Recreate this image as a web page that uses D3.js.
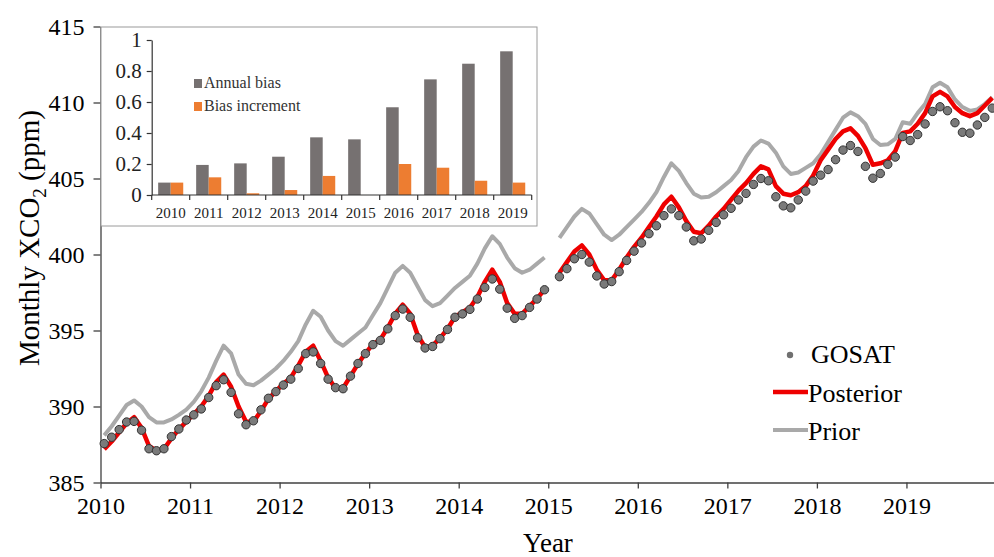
<!DOCTYPE html>
<html>
<head>
<meta charset="utf-8">
<script src="https://cdn.jsdelivr.net/npm/d3@7"></script>
<style>
  html, body { margin: 0; padding: 0; background: #fff; }
  svg { display: block; font-family: "Liberation Serif", "Times New Roman", serif; }
</style>
</head>
<body>
<svg id="chart" width="994" height="557"></svg>
<script>
/** Monthly GOSAT XCO2, Jan 2010 .. Dec 2019 (Jan 2015 missing). */
const gosat = [
  387.56, 387.98, 388.48, 388.98, 389.02, 388.44, 387.22, 387.09, 387.22, 388.02, 388.52, 389.11,
  389.45, 389.84, 390.59, 391.37, 391.76, 390.93, 389.52, 388.80, 389.06, 389.78, 390.54, 390.98,
  391.41, 391.80, 392.50, 393.48, 393.59, 392.83, 391.80, 391.24, 391.17, 392.00, 392.83, 393.48,
  394.07, 394.35, 395.11, 395.98, 396.41, 395.87, 394.52, 393.85, 393.95, 394.46, 395.07, 395.87,
  396.09, 396.39, 397.07, 397.83, 398.39, 397.72, 396.47, 395.80, 395.98, 396.52, 397.07, 397.68,
  null,   398.54, 399.07, 399.72, 400.00, 399.50, 398.59, 398.06, 398.22, 398.87, 399.61, 400.22,
  400.76, 401.37, 401.89, 402.56, 403.00, 402.56, 401.81, 400.90, 401.02, 401.59, 402.11, 402.61,
  403.04, 403.59, 404.02, 404.61, 405.00, 404.85, 403.80, 403.20, 403.07, 403.59, 404.17, 404.83,
  405.22, 405.59, 406.24, 406.87, 407.17, 406.78, 405.80, 405.02, 405.33, 405.93, 406.41, 407.76,
  407.50, 407.89, 408.59, 409.41, 409.72, 409.46, 408.67, 408.04, 407.98, 408.52, 409.02, 409.63
];
/** Posterior monthly XCO2. */
const posterior = [
  387.2, 387.7, 388.3, 388.9, 389.3, 388.6, 387.4, 387.1, 387.2, 387.9, 388.5, 389.0,
  389.5, 390.0, 390.7, 391.6, 392.1, 391.3, 390.0, 389.0, 389.0, 389.7, 390.5, 391.0,
  391.5, 391.9, 392.7, 393.6, 394.0, 393.0, 391.9, 391.2, 391.2, 392.0, 392.8, 393.5,
  394.1, 394.4, 395.2, 396.1, 396.7, 396.1, 394.7, 393.9, 394.0, 394.5, 395.1, 395.9,
  396.2, 396.5, 397.2, 398.2, 399.0, 398.2, 396.8, 396.1, 396.1, 396.6, 397.1, 397.7,
  null,  398.8, 399.5, 400.2, 400.6, 400.0, 399.0, 398.3, 398.3, 399.0, 399.8, 400.5,
  401.1, 401.8, 402.5, 403.3, 403.8, 403.1, 402.2, 401.5, 401.4, 401.9, 402.5, 403.0,
  403.6, 404.2, 404.7, 405.3, 405.8, 405.6, 404.5, 404.0, 403.9, 404.1, 404.5, 405.2,
  406.2, 406.9, 407.6, 408.1, 408.3, 407.8, 407.0, 405.9, 406.0, 406.2, 406.8, 408.0,
  408.1, 408.6, 409.3, 410.4, 410.7, 410.4, 409.7, 409.3, 409.1, 409.3, 409.8, 410.3
];
/** Prior monthly XCO2. */
const prior = [
  388.1, 388.7, 389.4, 390.1, 390.4, 390.0, 389.3, 388.95, 388.95, 389.15, 389.45, 389.8,
  390.3, 391.0, 391.9, 393.0, 394.0, 393.5, 392.1, 391.5, 391.4, 391.7, 392.1, 392.5,
  393.0, 393.6, 394.3, 395.4, 396.3, 395.9, 395.0, 394.3, 394.0, 394.4, 394.8, 395.2,
  396.0, 396.8, 397.8, 398.8, 399.25, 398.8, 397.9, 397.0, 396.6, 396.8, 397.3, 397.8,
  398.2, 398.6, 399.4, 400.4, 401.2, 400.7, 399.8, 399.1, 398.8, 399.0, 399.4, 399.8,
  null,  401.1, 401.8, 402.5, 403.0, 402.7, 402.0, 401.3, 400.95, 401.3, 401.8, 402.3,
  402.8, 403.4, 404.1, 405.1, 406.0, 405.5, 404.7, 404.0, 403.75, 403.8, 404.1, 404.5,
  404.9, 405.5, 406.4, 407.1, 407.5, 407.3, 406.7, 405.8, 405.3, 405.4, 405.7, 406.0,
  406.6, 407.4, 408.2, 409.0, 409.35, 409.1, 408.6, 407.6, 407.2, 407.25, 407.6, 408.7,
  408.6, 409.3, 409.9, 411.0, 411.3, 411.0, 410.2, 409.7, 409.45, 409.55, 409.9, 410.35
];
/** Main axis ticks. */
const yearTicks = [2010, 2011, 2012, 2013, 2014, 2015, 2016, 2017, 2018, 2019];
const ppmTicks = [385, 390, 395, 400, 405, 410, 415];

/** Inset bar chart values. */
const biasYears = ["2010", "2011", "2012", "2013", "2014", "2015", "2016", "2017", "2018", "2019"];
const annualBias = [0.08, 0.194, 0.204, 0.247, 0.372, 0.359, 0.566, 0.746, 0.847, 0.927];
const biasIncrement = [0.08, 0.114, 0.011, 0.032, 0.123, 0, 0.2, 0.176, 0.092, 0.08];
const biasTicks = [0, 0.2, 0.4, 0.6, 0.8, 1];
const biasSeries = ["Annual bias", "Bias increment"];

const serif = "Liberation Serif";
const svg = d3.select("#chart").attr("font-family", serif);
const axisColor = "#404040";

/** Month index -> decimal year (mid-month). */
const monthTime = (i) => 2010 + (i + 0.5) / 12;

const x = d3.scaleLinear().domain([2010, 2020]).range([100.5, 996]);
const y = d3.scaleLinear().domain([385, 415]).range([482.5, 26.5]);

/** Axes. */
const xAxis = svg.append("g")
  .attr("transform", "translate(0,482.5)")
  .call(d3.axisBottom(x).tickValues(yearTicks).tickFormat(d3.format("d"))
    .tickSize(6).tickSizeOuter(0).tickPadding(8));
const yAxis = svg.append("g")
  .attr("transform", "translate(100.5,0)")
  .call(d3.axisLeft(y).tickValues(ppmTicks).tickSize(7).tickSizeOuter(0).tickPadding(9));
[xAxis, yAxis].forEach((g) => {
  g.selectAll("path, line").attr("stroke", axisColor).attr("stroke-width", 1.3);
  g.selectAll("text").attr("font-size", 24).attr("fill", "#000").attr("font-family", serif);
});

svg.append("text")
  .attr("x", 548).attr("y", 552)
  .attr("text-anchor", "middle")
  .attr("font-family", serif)
  .attr("font-size", 27)
  .text("Year");

const yTitle = svg.append("text")
  .attr("transform", "translate(39,238) rotate(-90)")
  .attr("text-anchor", "middle")
  .attr("font-family", serif)
  .attr("font-size", 29);
yTitle.append("tspan").text("Monthly XCO");
yTitle.append("tspan").attr("font-size", 19).attr("dy", 7).text("2");
yTitle.append("tspan").attr("dy", -7).text(" (ppm)");

/** Lines (gap at Jan 2015). */
const line = d3.line()
  .defined((d) => d != null)
  .x((d, i) => x(monthTime(i)))
  .y((d) => y(d));

svg.append("path")
  .datum(prior)
  .attr("fill", "none")
  .attr("stroke", "#a9a9a9")
  .attr("stroke-width", 4)
  .attr("stroke-linejoin", "round")
  .attr("d", line);

svg.append("path")
  .datum(posterior)
  .attr("fill", "none")
  .attr("stroke", "#ee0000")
  .attr("stroke-width", 4.5)
  .attr("stroke-linejoin", "round")
  .attr("d", line);

svg.append("g")
  .selectAll("circle")
  .data(gosat.map((v, i) => ({ v, i })).filter((d) => d.v != null))
  .join("circle")
  .attr("cx", (d) => x(monthTime(d.i)))
  .attr("cy", (d) => y(d.v))
  .attr("r", 4.2)
  .attr("fill", "#7a7a7a")
  .attr("stroke", "#333")
  .attr("stroke-width", 1);

/** Legend. */
const legend = svg.append("g").attr("font-size", 26).attr("font-family", serif);
legend.append("circle").attr("cx", 790).attr("cy", 355).attr("r", 3.2).attr("fill", "#707070");
legend.append("text").attr("x", 811).attr("y", 363).text("GOSAT");
legend.append("line").attr("x1", 773).attr("x2", 808).attr("y1", 392).attr("y2", 392)
  .attr("stroke", "#ee0000").attr("stroke-width", 4.5);
legend.append("text").attr("x", 808).attr("y", 402).text("Posterior");
legend.append("line").attr("x1", 773).attr("x2", 808).attr("y1", 430).attr("y2", 430)
  .attr("stroke", "#a9a9a9").attr("stroke-width", 4);
legend.append("text").attr("x", 808).attr("y", 440).text("Prior");

/** Inset bar chart. */
const inset = svg.append("g").attr("font-family", serif);
inset.append("rect")
  .attr("x", 101).attr("y", 27).attr("width", 436).attr("height", 199)
  .attr("fill", "#fff").attr("stroke", "#9a9a9a").attr("stroke-width", 1);

const bx = d3.scaleBand().domain(biasYears).range([151.7, 531.7])
  .paddingInner(0.34).paddingOuter(0.17);
const bx1 = d3.scaleBand().domain(biasSeries).range([0, bx.bandwidth()]);
const by = d3.scaleLinear().domain([0, 1]).range([195, 40]);
const biasColor = d3.scaleOrdinal().domain(biasSeries).range(["#767171", "#ed7d31"]);

inset.append("g")
  .selectAll("g")
  .data(biasYears)
  .join("g")
  .attr("transform", (d) => `translate(${bx(d)},0)`)
  .selectAll("rect")
  .data((d, i) => [
    { key: biasSeries[0], v: annualBias[i] },
    { key: biasSeries[1], v: biasIncrement[i] }
  ])
  .join("rect")
  .attr("x", (d) => bx1(d.key))
  .attr("width", bx1.bandwidth())
  .attr("y", (d) => by(d.v))
  .attr("height", (d) => by(0) - by(d.v))
  .attr("fill", (d) => biasColor(d.key));

const biasYAxis = inset.append("g")
  .attr("transform", "translate(151.7,0)")
  .call(d3.axisLeft(by).tickValues(biasTicks).tickFormat((d) => String(d))
    .tickSize(5).tickSizeOuter(0).tickPadding(5));
const biasXAxis = inset.append("g")
  .attr("transform", "translate(0,195)")
  .call(d3.axisBottom(bx).tickSize(0).tickSizeOuter(0).tickPadding(12));
/** Category boundary ticks. */
biasXAxis.selectAll(".edge")
  .data(d3.range(biasYears.length + 1))
  .join("line")
  .attr("class", "edge")
  .attr("x1", (i) => 151.7 + i * bx.step())
  .attr("x2", (i) => 151.7 + i * bx.step())
  .attr("y1", 0).attr("y2", 5);
biasXAxis.select(".domain").attr("d", "M151.7,0H531.7");
[biasYAxis, biasXAxis].forEach((g) => {
  g.selectAll("path, line").attr("stroke", "#333").attr("stroke-width", 1.2);
  g.selectAll("text").attr("fill", "#222").attr("font-family", serif);
});
biasYAxis.selectAll("text").attr("font-size", 21);
biasXAxis.selectAll("text").attr("font-size", 15);

const biasLegend = inset.append("g")
  .selectAll("g")
  .data(biasSeries)
  .join("g")
  .attr("transform", (d, i) => `translate(194,${79 + i * 23})`);
biasLegend.append("rect").attr("width", 8).attr("height", 9).attr("fill", (d) => biasColor(d));
biasLegend.append("text").attr("x", 10).attr("y", 9).attr("font-size", 16)
  .attr("fill", "#333").text((d) => d);
</script>
</body>
</html>
